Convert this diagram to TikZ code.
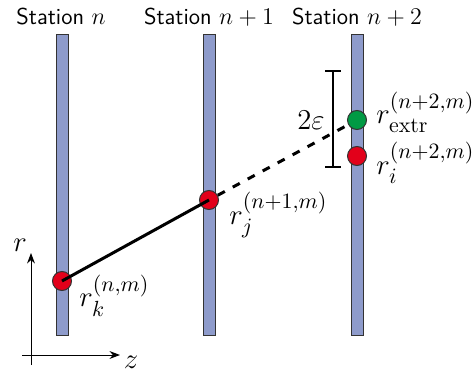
\documentclass[tikz,border=0pt]{standalone}
\usepackage{amsmath, amssymb}
\usepackage{xcolor}
\usepackage{tikz}
\usetikzlibrary{positioning, arrows.meta, calc}
\definecolor{barblue}{HTML}{8E9BCB}
\definecolor{hitred}{HTML}{E2001A}
\definecolor{hitgreen}{HTML}{009A44}

\begin{document}
\begin{tikzpicture}[
  x=0.5pt, y=-0.5pt,
  font=\fontsize{11.5}{13}\selectfont,
  station/.style={rectangle, draw=black!80, fill=barblue, line width=0.5pt, minimum width=6pt, minimum height=150pt, inner sep=0pt},
  hit/.style={circle, draw=black!80, line width=0.5pt, minimum size=9.5pt, inner sep=0pt},
  track/.style={line width=1.5pt},
  axis/.style={-Stealth, line width=0.5pt},
  lbl/.style={font=\fontsize{15}{17}\selectfont, anchor=west, inner sep=0pt},
]
\useasboundingbox (0,0) rectangle (476,374);

% detector stations
\node[station] (s0) at (62,185) {};
\node[station] (s1) at (209,185) {};
\node[station] (s2) at (357,185) {};
\node (t0) at (61,17) {\sffamily Station $n$};
\node (t1) at (209,17) {\sffamily Station $n+1$};
\node (t2) at (357,17) {\sffamily Station $n+2$};

% hits
\node[hit, fill=hitred] (k) at (62,281) {};
\node[hit, fill=hitred] (j) at (209,200) {};
\node[hit, fill=hitgreen] (extr) at (357,120) {};
\node[hit, fill=hitred] (i) at (357,156) {};

% track and extrapolation
\draw[track] (k.center) -- (j.center);
\draw[track, dash pattern=on 4pt off 4.5pt] (j) -- (extr);

% search window
\coordinate (wtop) at (333,71);
\coordinate (wbot) at (333,167);
\draw[line width=0.6pt] (wtop) -- (wbot)
  ($(wtop)+(-8,0)$) -- ($(wtop)+(8,0)$)
  ($(wbot)+(-8,0)$) -- ($(wbot)+(8,0)$);
\node[lbl, anchor=east] (eps) at (325,120) {$2\varepsilon$};

% labels
\node[lbl] (lextr) at (376,112) {$r_{\mathrm{extr}}^{(n+2,m)}$};
\node[lbl] (li) at (376,163) {$r_{i}^{(n+2,m)}$};
\node[lbl] (lj) at (229,215) {$r_{j}^{(n+1,m)}$};
\node[lbl] (lk) at (79,296) {$r_{k}^{(n,m)}$};

% axes
\coordinate (o) at (31,355);
\coordinate (otop) at (31,253);
\coordinate (oright) at (120,355);
\draw[axis] ($(o)+(0,10)$) -- (otop);
\draw[axis] ($(o)+(-9,0)$) -- (oright);
\node (rlab) at (20,245) {\fontsize{15}{17}\selectfont$r$};
\node (zlab) at (131,362) {\fontsize{15}{17}\selectfont$z$};
\end{tikzpicture}
\end{document}
